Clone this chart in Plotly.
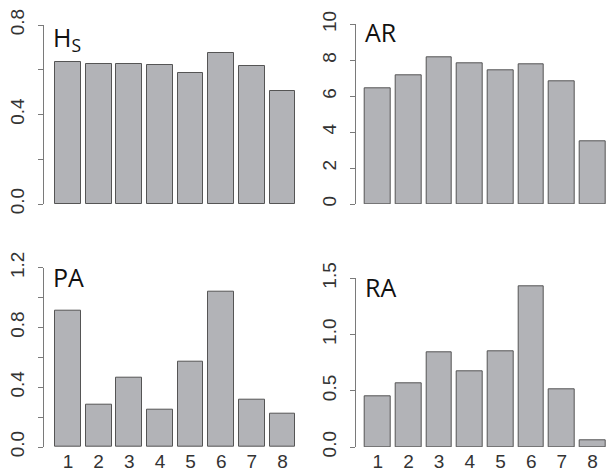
import plotly.graph_objects as go

W, H = 611, 471

categories = [1, 2, 3, 4, 5, 6, 7, 8]
hs_values = [0.633, 0.626, 0.626, 0.623, 0.584, 0.676, 0.615, 0.504]
ar_values = [6.42, 7.16, 8.16, 7.83, 7.46, 7.79, 6.83, 3.47]
pa_values = [0.910, 0.281, 0.462, 0.252, 0.571, 1.042, 0.315, 0.221]
ra_values = [0.448, 0.566, 0.842, 0.670, 0.854, 1.426, 0.510, 0.056]

hs_ticks = [0.0, 0.2, 0.4, 0.6, 0.8]
hs_ticktext = ["0.0", " ", "0.4", " ", "0.8"]
ar_ticks = [0, 2, 4, 6, 8, 10]
ar_ticktext = ["0", "2", "4", "6", "8", "10"]
pa_ticks = [0.0, 0.2, 0.4, 0.6, 0.8, 1.0, 1.2]
pa_ticktext = ["0.0", " ", "0.4", " ", "0.8", " ", "1.2"]
ra_ticks = [0.0, 0.5, 1.0, 1.5]
ra_ticktext = ["0.0", "0.5", "1.0", "1.5"]
x_ticktext = ["1", "2", "3", "4", "5", "6", "7", "8"]

panels = [
    # values, yticks, yticktext, label, label size, label top offset, x px range, y px (top,bottom), xrange, show x labels
    (hs_values, hs_ticks, hs_ticktext, "H<sub>S</sub>", 25, -7, (44, 300.9), (25, 204), (0.217, 8.6), False),
    (ar_values, ar_ticks, ar_ticktext, "AR", 25, -11, (355.7, 611), (24.3, 204), (0.283, 8.6), False),
    (pa_values, pa_ticks, pa_ticktext, "PA", 25, -10, (44, 300.9), (267.7, 447), (0.217, 8.6), True),
    (ra_values, ra_ticks, ra_ticktext, "RA", 25, -10, (355.7, 611), (278.3, 447), (0.283, 8.6), True),
]

fig = go.Figure()
BAR_FILL = "#b2b3b7"
BAR_LINE = "#555555"
AXIS_COL = "#7a7a7a"
TXT_COL = "#333333"
TICK_FONT = dict(family="Liberation Sans, Arial, sans-serif", size=19, color=TXT_COL)

for i, (vals, yt, ytt, label, lsize, ltop, xpx, ypx, xr, showx) in enumerate(panels):
    n = i + 1
    xa = "x" if n == 1 else f"x{n}"
    ya = "y" if n == 1 else f"y{n}"
    fig.add_trace(go.Bar(
        x=categories, y=vals, width=0.84,
        marker=dict(color=BAR_FILL, line=dict(color=BAR_LINE, width=1)),
        xaxis=xa, yaxis=ya, showlegend=False, hoverinfo="skip",
    ))
    xkey = "xaxis" if n == 1 else f"xaxis{n}"
    ykey = "yaxis" if n == 1 else f"yaxis{n}"
    fig.layout[xkey] = dict(
        domain=[xpx[0] / W, xpx[1] / W], range=list(xr), anchor=ya,
        showline=False, showgrid=False, zeroline=False, ticks="",
        tickvals=categories, ticktext=x_ticktext if showx else [" "] * 8,
        showticklabels=showx, tickfont=TICK_FONT, ticklabelstandoff=1,
        fixedrange=True, automargin=False,
    )
    fig.layout[ykey] = dict(
        domain=[1 - ypx[1] / H, 1 - ypx[0] / H], range=[yt[0], yt[-1]], anchor=xa,
        showline=True, linecolor=AXIS_COL, linewidth=1, showgrid=False, zeroline=False,
        ticks="outside", ticklen=5, tickcolor=AXIS_COL, tickwidth=1,
        tickvals=yt, ticktext=ytt, tickangle=-90, tickfont=TICK_FONT,
        ticklabelstandoff=6, fixedrange=True, automargin=False,
    )
    fig.add_annotation(
        text=label, xref="paper", yref="paper",
        x=(xpx[0] + 7) / W, y=1 - (ypx[0] + ltop) / H,
        xanchor="left", yanchor="top", showarrow=False,
        font=dict(family="Open Sans, sans-serif", size=lsize, color="#111111"),
    )

fig.update_layout(
    template="none",
    width=W, height=H, margin=dict(l=0, r=0, t=0, b=0, pad=0, autoexpand=False),
    plot_bgcolor="white", paper_bgcolor="white", bargap=0,
)

fig.write_html(
    "out.html",
    config={"displayModeBar": False},
    post_script="document.body.style.margin='0';document.body.style.padding='0';document.documentElement.style.overflow='hidden';",
)
